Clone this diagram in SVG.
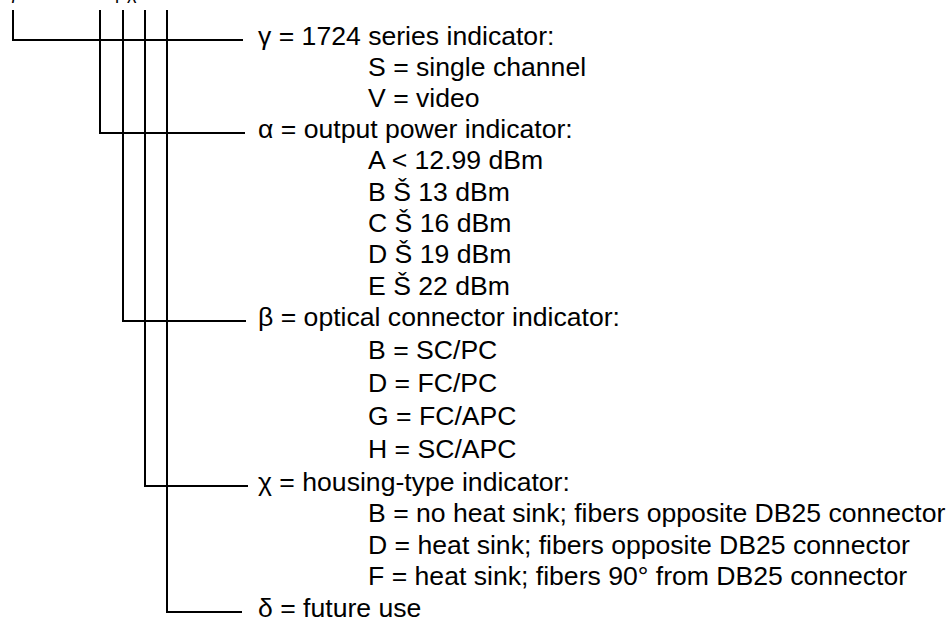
<svg xmlns="http://www.w3.org/2000/svg" width="952" height="622" viewBox="0 0 952 622">
<style>
text{font-family:"Liberation Sans",Arial,sans-serif;font-size:26.6px;fill:#000}
text.top{font-size:18px}
.c{fill:none;stroke:#000;stroke-width:2}
</style>
<rect width="952" height="622" fill="#fff"/>
<text class="top" y="-1"><tspan x="9">γ</tspan><tspan x="115">β</tspan><tspan x="127">χ</tspan></text>
<g id="connectors">
<path class="c" d="M13,10V40H243"/>
<path class="c" d="M100,10V133H245"/>
<path class="c" d="M123,10V321H246"/>
<path class="c" d="M145,10V486H248"/>
<path class="c" d="M167,10V612H242"/>
</g>
<g id="gamma">
<text x="258" y="45">γ = 1724 series indicator:</text>
<text x="368" y="76">S = single channel</text>
<text x="368" y="107">V = video</text>
</g>
<g id="alpha">
<text x="258" y="138">α = output power indicator:</text>
<text x="368" y="169">A &lt; 12.99 dBm</text>
<text x="368" y="201">B Š 13 dBm</text>
<text x="368" y="232">C Š 16 dBm</text>
<text x="368" y="263">D Š 19 dBm</text>
<text x="368" y="295">E Š 22 dBm</text>
</g>
<g id="beta">
<text x="258" y="326">β = optical connector indicator:</text>
<text x="368" y="359">B = SC/PC</text>
<text x="368" y="392">D = FC/PC</text>
<text x="368" y="425">G = FC/APC</text>
<text x="368" y="458">H = SC/APC</text>
</g>
<g id="chi">
<text x="258" y="491">χ = housing-type indicator:</text>
<text x="368" y="522">B = no heat sink; fibers opposite DB25 connector</text>
<text x="368" y="554">D = heat sink; fibers opposite DB25 connector</text>
<text x="368" y="585">F = heat sink; fibers 90° from DB25 connector</text>
</g>
<g id="delta">
<text x="258" y="617">δ = future use</text>
</g>
</svg>
